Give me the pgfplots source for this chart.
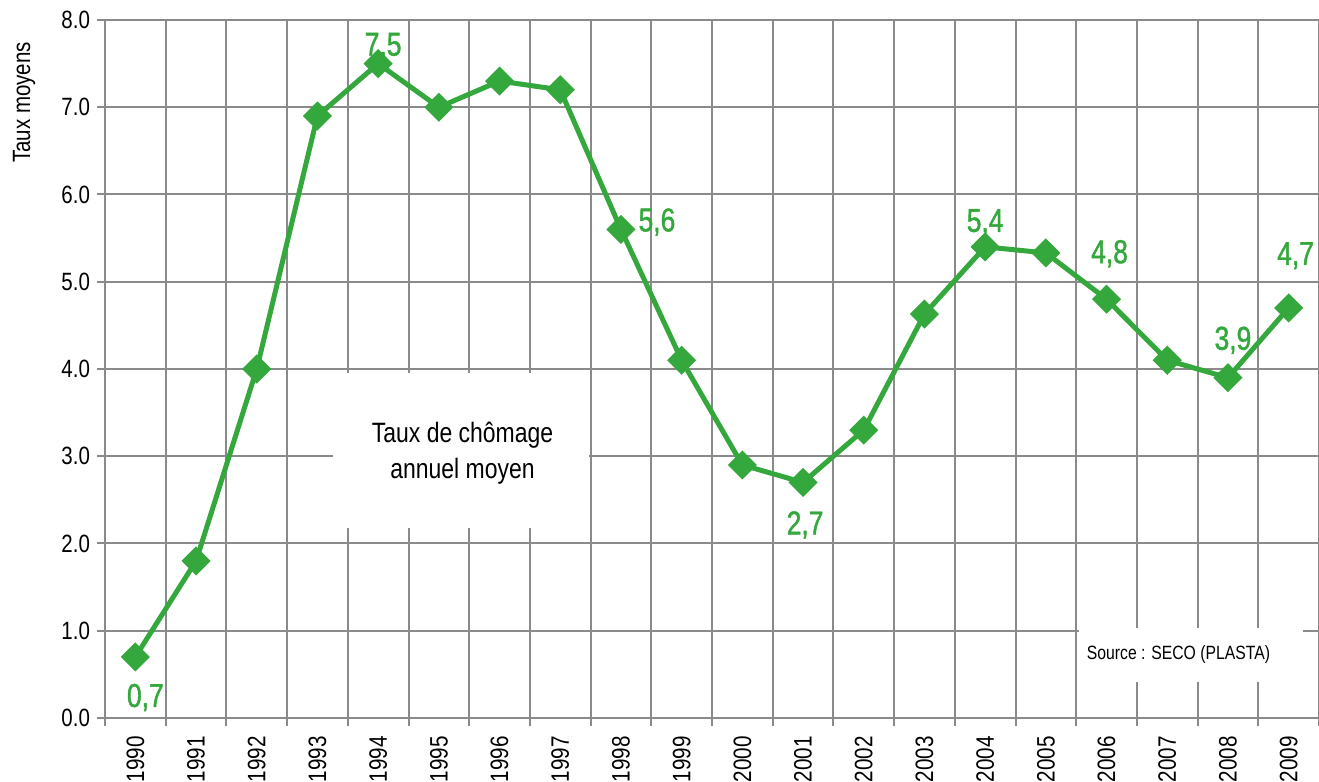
\documentclass[border=0pt]{standalone}
\usepackage{fontspec}
\setmainfont{Liberation Sans}[FakeStretch=0.82]
\newfontfamily\etiq{Liberation Sans}[FakeStretch=0.8, FakeBold=1.3]
\usepackage{pgfplots}
\pgfplotsset{compat=1.18}
\usepackage{pgfplotstable}
\definecolor{vert}{HTML}{34A83C}
\definecolor{grille}{HTML}{8A8A8A}

% taux de chomage annuel moyen, 1990 = 0
\pgfplotstableread{
x y
0 0.7
1 1.8
2 4.0
3 6.9
4 7.5
5 7.0
6 7.3
7 7.2
8 5.6
9 4.1
10 2.9
11 2.7
12 3.3
13 4.63
14 5.4
15 5.33
16 4.8
17 4.1
18 3.9
19 4.7
}\taux

% etiquettes: decalage en pt par rapport au point
\pgfplotstableread{
x y lab dx dy
0 0.7 0,7 5 -25
4 7.5 7,5 2.5 4
8 5.6 5,6 18 -1
11 2.7 2,7 1 -26
14 5.4 5,4 0 7.5
16 4.8 4,8 1.5 18
18 3.9 3,9 2.5 14
19 4.7 4,7 3.5 21.5
}\etiquettes

\begin{document}
\begin{tikzpicture}
\path[use as bounding box] (-52.5pt,-32pt) rectangle (607pt,359pt);
\clip (-52.5pt,-32pt) rectangle (607pt,359pt);
\begin{axis}[
  scale only axis, width=607pt, height=349pt,
  xmin=-0.5, xmax=19.5, ymin=0, ymax=8,
  xtick={-0.5,0.5,...,19.5}, xticklabels={},
  extra x ticks={0,1,...,19},
  extra x tick labels={1990,1991,1992,1993,1994,1995,1996,1997,1998,1999,2000,2001,2002,2003,2004,2005,2006,2007,2008,2009},
  extra x tick style={major tick length=0pt, grid=none,
    xticklabel style={rotate=90, anchor=east, inner xsep=9pt, font=\fontsize{12.6}{13}\selectfont}},
  ytick={0,1,...,8},
  yticklabel style={/pgf/number format/.cd, fixed, fixed zerofill, precision=1},
  /pgf/number format/assume math mode=true,
  tick label style={font=\fontsize{12.5}{13}\selectfont, text=black},
  xtick pos=bottom, ytick pos=left,
  tick align=outside, major tick length=4pt,
  xmajorgrids, ymajorgrids,
  grid style={grille, line width=1pt},
  tick style={grille, line width=1pt},
  axis line style={draw=none},
  ylabel={Taux moyens},
  ylabel style={at={(axis description cs:-0.0667,0.9785)}, anchor=east, font=\fontsize{12.5}{13}\selectfont},
]
\addplot[vert, line width=2.5pt, mark=square*, mark size=3.9pt, mark options={rotate=45, solid}] table[x=x,y=y]{\taux};
\addplot[draw=none, nodes near coords, point meta=explicit symbolic,
  visualization depends on={\thisrow{dx}\as\ddx},
  visualization depends on={\thisrow{dy}\as\ddy},
  nodes near coords style={anchor=base, inner sep=0pt, xshift=\ddx pt, yshift=\ddy pt, text=vert, font=\etiq\fontsize{16.5}{17}\selectfont}]
  table[x=x,y=y,meta=lab]{\etiquettes};
\fill[white] (axis cs:3.26,2.18) rectangle (axis cs:7.47,3.95);
\node[align=center, font=\fontsize{14}{18}\selectfont] at (axis cs:5.39,3.04) {Taux de chômage\\annuel moyen};
\fill[white] (axis cs:15.54,0.41) rectangle (axis cs:19.23,1.03);
\node[anchor=base west, inner sep=0pt, font=\fontsize{9.6}{11}\selectfont] at (axis cs:15.67,0.676) {Source : SECO (PLASTA)};
\end{axis}
\end{tikzpicture}
\end{document}
